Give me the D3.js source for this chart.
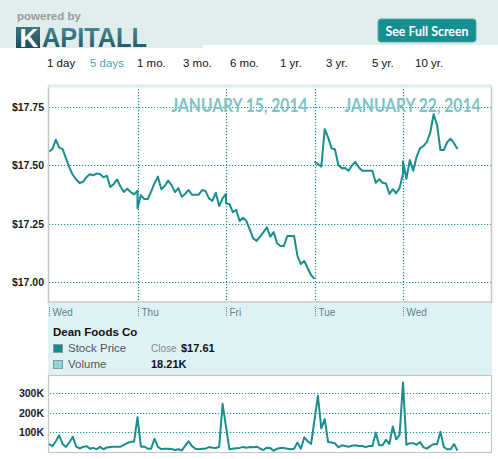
<!DOCTYPE html>
<html><head><meta charset="utf-8">
<script src="https://cdn.jsdelivr.net/npm/d3@7/dist/d3.min.js"></script>
<style>
html,body{margin:0;padding:0;background:#fff;}
svg{display:block;}
</style></head>
<body>
<svg id="chart" width="498" height="459"></svg>
<script>
// ---------- DATA ----------
const dayLabels = ["Wed", "Thu", "Fri", "Tue", "Wed"];
const dateTitles = ["JANUARY 15, 2014", "JANUARY 22, 2014"];
const periodLabels = ["1 day", "5 days", "1 mo.", "3 mo.", "6 mo.", "1 yr.", "3 yr.", "5 yr.", "10 yr."];
const activePeriod = "5 days";
const priceTicks = [17.00, 17.25, 17.50, 17.75];
const volumeTicks = [100000, 200000, 300000];
const slotsPerDay = 26; // 15-minute intervals per trading day
const sessionGapAfterDay = [2]; // price line breaks after Fri (long weekend)

// intraday close prices, one array per trading day (15-min steps)
const priceWed1 = [17.559, 17.57, 17.61, 17.576, 17.57, 17.53, 17.49, 17.459, 17.44, 17.425, 17.43, 17.45, 17.462, 17.458, 17.465, 17.463, 17.449, 17.456, 17.408, 17.42, 17.44, 17.41, 17.387, 17.40, 17.386, 17.376, 17.392];
const priceThu = [17.317, 17.373, 17.356, 17.356, 17.388, 17.424, 17.452, 17.398, 17.412, 17.435, 17.416, 17.386, 17.403, 17.366, 17.378, 17.395, 17.375, 17.375, 17.375, 17.395, 17.39, 17.359, 17.348, 17.383, 17.326, 17.359, 17.378];
const priceFri = [17.338, 17.335, 17.30, 17.31, 17.262, 17.276, 17.262, 17.225, 17.188, 17.177, 17.195, 17.215, 17.235, 17.195, 17.215, 17.167, 17.155, 17.155, 17.198, 17.198, 17.198, 17.112, 17.078, 17.091, 17.06, 17.03, 17.015];
const priceTue = [17.516, 17.506, 17.495, 17.655, 17.62, 17.573, 17.569, 17.502, 17.488, 17.489, 17.477, 17.50, 17.515, 17.492, 17.477, 17.477, 17.477, 17.477, 17.426, 17.441, 17.426, 17.423, 17.378, 17.398, 17.381, 17.403, 17.463];
const priceWed2 = [17.518, 17.443, 17.523, 17.477, 17.537, 17.573, 17.583, 17.60, 17.64, 17.719, 17.673, 17.566, 17.566, 17.60, 17.614, 17.595, 17.57];
const priceDays = [priceWed1, priceThu, priceFri, priceTue, priceWed2];

// volume per 15-min slot, consecutive across the five days
const volumeValues = [
  41000, 30000, 55000, 85000, 41000, 26000, 50000, 78000, 27000, 18000, 26000, 30000, 17000, 21000, 14000, 26000, 14000, 23000, 26000, 27000, 27000, 27000, 36000, 46000, 52000, 53000,
  178000, 27000, 28000, 17000, 17000, 68000, 26000, 15000, 16000, 17000, 15000, 10000, 14000, 8000, 31000, 55000, 30000, 17000, 14000, 17000, 17000, 25000, 22000, 20000, 27000, 246000,
  130000, 14000, 17000, 19000, 21000, 26000, 22000, 25000, 24000, 27000, 18000, 10000, 22000, 20000, 7000, 17000, 20000, 20000, 17000, 14000, 17000, 48000, 17000, 75000, 55000, 41000,
  164000, 287000, 121000, 168000, 51000, 48000, 45000, 24000, 34000, 31000, 27000, 32000, 35000, 31000, 31000, 25000, 31000, 31000, 99000, 34000, 34000, 62000, 41000, 130000, 65000, 87000,
  355000, 37000, 45000, 45000, 37000, 51000, 24000, 17000, 30000, 41000, 40000, 104000, 25000, 14000, 14000, 41000, 7000
];
const companyName = "Dean Foods Co";
const closeValue = "$17.61";
const volumeValue = "18.21K";

// ---------- LAYOUT ----------
const W = 498, H = 459;
const plotL = 48, plotR = 492;
const priceTop = 86, priceBot = 302;
const volTop = 375, volBot = 452;
const teal = "#1a8e8e";
const gridColor = "#159494";
const sans = "Liberation Sans, Arial, sans-serif";

const svg = d3.select("#chart");
const defs = svg.append("defs");

// ---------- HEADER ----------
svg.append("rect").attr("x", 0).attr("y", 0).attr("width", W).attr("height", 45).attr("fill", "#e0eded");
svg.append("rect").attr("x", 0).attr("y", 0).attr("width", 203).attr("height", 48).attr("fill", "#e0eded");
svg.append("text").attr("x", 17).attr("y", 19.5).text("powered by")
  .attr("font-family", sans).attr("font-weight", "bold")
  .attr("font-size", 11.5).attr("fill", "#9a9a9a");

const gK = defs.append("linearGradient").attr("id", "gK").attr("x1", 0).attr("y1", 0).attr("x2", 0).attr("y2", 1);
gK.append("stop").attr("offset", "0%").attr("stop-color", "#3d7683");
gK.append("stop").attr("offset", "100%").attr("stop-color", "#1f4b57");
const gA = defs.append("linearGradient").attr("id", "gA").attr("x1", 0).attr("y1", 0).attr("x2", 0).attr("y2", 1);
gA.append("stop").attr("offset", "0%").attr("stop-color", "#4f919c");
gA.append("stop").attr("offset", "100%").attr("stop-color", "#1a4f5b");

svg.append("rect").attr("x", 16).attr("y", 27).attr("width", 24).attr("height", 21).attr("fill", "url(#gK)");
svg.append("text").attr("x", 29).attr("y", 46.5).attr("text-anchor", "middle").text("K")
  .attr("font-family", sans).attr("font-weight", "bold")
  .attr("font-size", 26).attr("fill", "#ffffff");
svg.append("text").attr("x", 42).attr("y", 47).text("APITALL")
  .attr("font-family", sans).attr("font-weight", "bold")
  .attr("font-size", 27).attr("fill", "url(#gA)")
  .attr("textLength", 105).attr("lengthAdjust", "spacingAndGlyphs");

// See Full Screen button
svg.append("rect").attr("x", 378).attr("y", 19).attr("width", 98).attr("height", 23).attr("rx", 3)
  .attr("fill", "#178f92").attr("stroke", "#4fa9ab").attr("stroke-width", 1);
svg.append("text").attr("x", 427).attr("y", 35.5).attr("text-anchor", "middle").text("See Full Screen")
  .attr("font-family", "Lato, Open Sans, sans-serif").attr("font-weight", "bold")
  .attr("font-size", 14).attr("fill", "#ffffff")
  .attr("textLength", 83).attr("lengthAdjust", "spacingAndGlyphs");

// period nav
const navX = [47, 90, 137, 183, 230, 280, 326, 372, 415];
svg.append("g").selectAll("text").data(periodLabels).join("text")
  .attr("x", (d, i) => navX[i]).attr("y", 67)
  .text(d => d)
  .attr("font-family", sans).attr("font-size", 11.5)
  .attr("fill", d => d === activePeriod ? "#4aa6b6" : "#111");

// ---------- SCALES ----------
const x = d3.scaleLinear().domain([0, dayLabels.length]).range([49, 491.5]);
const y = d3.scaleLinear().domain([17.0, 17.75]).range([282.3, 107]);
const yv = d3.scaleLinear().domain([0, 300000]).range([452, 393.3]);

// ---------- PRICE PANEL ----------
svg.append("rect").attr("x", plotL).attr("y", priceTop).attr("width", plotR - plotL).attr("height", priceBot - priceTop).attr("fill", "#fff");

svg.append("g").selectAll("line").data(priceTicks).join("line")
  .attr("x1", plotL + 1).attr("x2", plotR).attr("y1", d => Math.round(y(d)) + 0.5).attr("y2", d => Math.round(y(d)) + 0.5)
  .attr("stroke", gridColor).attr("stroke-width", 1.2).attr("stroke-dasharray", "1.2,1.8");
svg.append("g").selectAll("line").data(d3.range(1, dayLabels.length)).join("line")
  .attr("x1", d => Math.round(x(d)) + 0.5).attr("x2", d => Math.round(x(d)) + 0.5)
  .attr("y1", priceTop).attr("y2", priceBot)
  .attr("stroke", gridColor).attr("stroke-width", 1.2).attr("stroke-dasharray", "1.2,1.8");

svg.append("g").selectAll("text").data(priceTicks).join("text")
  .attr("x", 44).attr("y", d => y(d) + 3.8).attr("text-anchor", "end")
  .text(d => "$" + d3.format(".2f")(d))
  .attr("font-family", sans).attr("font-weight", "bold")
  .attr("font-size", 10.5).attr("fill", "#1a1a1a");

// date titles
const titleAnchors = [3, 5];
svg.append("g").selectAll("text").data(dateTitles).join("text")
  .attr("x", (d, i) => x(titleAnchors[i]) - (i === 0 ? 7 : 11)).attr("y", 112)
  .attr("text-anchor", "end").text(d => d)
  .attr("font-family", "Lato, Open Sans, sans-serif").attr("font-weight", "bold")
  .attr("font-size", 18).attr("fill", "#7cc3c4")
  .attr("textLength", 136).attr("lengthAdjust", "spacingAndGlyphs");

// price line (with a break over the long weekend)
const pricePoints = [];
priceDays.forEach((arr, dIdx) => {
  arr.forEach((v, i) => pricePoints.push({t: dIdx + i / slotsPerDay, v}));
  if (sessionGapAfterDay.includes(dIdx)) pricePoints.push(null);
});
svg.append("path").datum(pricePoints)
  .attr("d", d3.line().defined(d => d !== null).x(d => x(d.t)).y(d => y(d.v)))
  .attr("fill", "none").attr("stroke", teal).attr("stroke-width", 2).attr("stroke-linejoin", "round");

// frame
svg.append("line").attr("x1", plotL + 0.5).attr("x2", plotL + 0.5).attr("y1", priceTop).attr("y2", priceBot + 1).attr("stroke", "#c6c6c6").attr("stroke-width", 1.5);
svg.append("line").attr("x1", plotR - 0.5).attr("x2", plotR - 0.5).attr("y1", priceTop).attr("y2", priceBot + 1).attr("stroke", "#c6c6c6").attr("stroke-width", 1.5);
svg.append("line").attr("x1", plotL).attr("x2", plotR).attr("y1", priceBot).attr("y2", priceBot).attr("stroke", "#c6c6c6").attr("stroke-width", 1.5);
svg.append("line").attr("x1", plotL).attr("x2", plotR).attr("y1", priceTop).attr("y2", priceTop).attr("stroke", "#d8eef2").attr("stroke-width", 3);

// ---------- X AXIS BAND & LEGEND ----------
svg.append("rect").attr("x", plotL).attr("y", 303).attr("width", plotR - plotL).attr("height", volTop - 303).attr("fill", "#def2f5");
const dayG = svg.append("g").selectAll("g").data(dayLabels).join("g")
  .attr("transform", (d, i) => `translate(${Math.round(x(i)) + 0.5},0)`);
dayG.append("line").attr("x1", 0).attr("x2", 0).attr("y1", 307).attr("y2", 317)
  .attr("stroke", "#3f8f95").attr("stroke-width", 1).attr("stroke-dasharray", "1,1");
dayG.append("text").attr("x", 3).attr("y", 316).text(d => d)
  .attr("font-family", sans).attr("font-size", 10)
  .attr("fill", "#5f8088");

svg.append("text").attr("x", 53).attr("y", 336).text(companyName)
  .attr("font-family", sans).attr("font-weight", "bold")
  .attr("font-size", 11.5).attr("fill", "#111");
const legendItems = [{name: "Stock Price", color: "#178b8b", y: 352}, {name: "Volume", color: "#8ad8da", y: 368}];
const lg = svg.append("g").selectAll("g").data(legendItems).join("g");
lg.append("rect").attr("x", 53.5).attr("y", d => d.y - 7.5).attr("width", 9).attr("height", 8)
  .attr("fill", d => d.color).attr("stroke", "#8a9a9c").attr("stroke-width", 1);
lg.append("text").attr("x", 68).attr("y", d => d.y).text(d => d.name)
  .attr("font-family", sans).attr("font-size", 11.5).attr("fill", "#555");
svg.append("text").attr("x", 151).attr("y", 352).text("Close")
  .attr("font-family", sans).attr("font-size", 10).attr("fill", "#888");
svg.append("text").attr("x", 181).attr("y", 352).text(closeValue)
  .attr("font-family", sans).attr("font-weight", "bold").attr("font-size", 11).attr("fill", "#111");
svg.append("text").attr("x", 151).attr("y", 368).text(volumeValue)
  .attr("font-family", sans).attr("font-weight", "bold").attr("font-size", 11).attr("fill", "#111");

// ---------- VOLUME PANEL ----------
svg.append("rect").attr("x", plotL + 0.5).attr("y", volTop + 0.5).attr("width", plotR - plotL - 1).attr("height", volBot - volTop)
  .attr("fill", "#fff").attr("stroke", "#c6c6c6").attr("stroke-width", 1.2);
svg.append("g").selectAll("line").data(volumeTicks).join("line")
  .attr("x1", plotL + 2).attr("x2", plotR - 1).attr("y1", d => Math.round(yv(d)) + 0.5).attr("y2", d => Math.round(yv(d)) + 0.5)
  .attr("stroke", gridColor).attr("stroke-width", 1.2).attr("stroke-dasharray", "1.2,1.8");
svg.append("g").selectAll("text").data(volumeTicks).join("text")
  .attr("x", 44).attr("y", d => yv(d) + 3.8).attr("text-anchor", "end")
  .text(d => (d / 1000) + "K")
  .attr("font-family", sans).attr("font-weight", "bold")
  .attr("font-size", 10.5).attr("fill", "#1a1a1a");
svg.append("path").datum(volumeValues)
  .attr("d", d3.line().x((d, i) => x(i / slotsPerDay)).y(d => yv(d)))
  .attr("fill", "none").attr("stroke", teal).attr("stroke-width", 2).attr("stroke-linejoin", "round");
</script>
</body></html>
